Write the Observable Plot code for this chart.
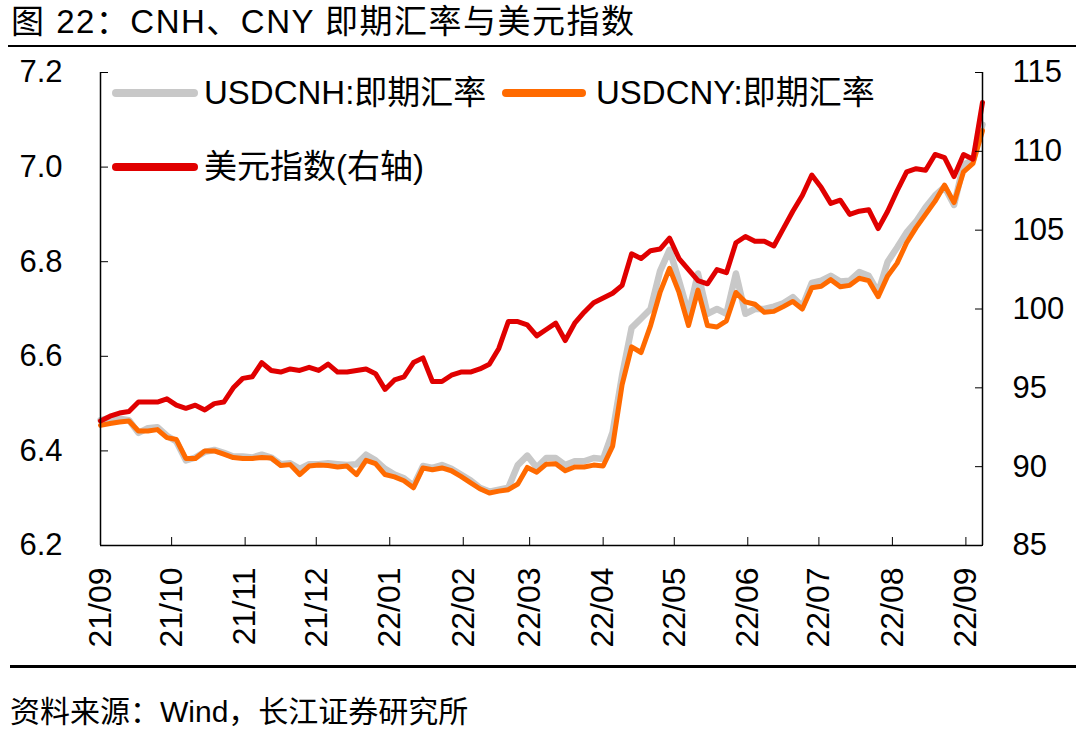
<!DOCTYPE html>
<html>
<head>
<meta charset="utf-8">
<script src="https://cdn.jsdelivr.net/npm/d3@7"></script>
<script src="https://cdn.jsdelivr.net/npm/@observablehq/plot@0.6"></script>
<style>
  html, body { margin: 0; padding: 0; background: #fff; }
  #wrap { position: relative; width: 1080px; height: 733px; overflow: hidden;
          font-family: "Liberation Sans", Arial, "Noto Sans CJK SC", sans-serif; color: #000; }
  #title { position: absolute; left: 11px; top: 2px; font-size: 33px; line-height: 40px; letter-spacing: 1.5px; white-space: nowrap; }
  #rule1 { position: absolute; left: 8px; top: 45px; width: 1068px; height: 2px; background: #000; }
  #chart { position: absolute; left: 0; top: 50px; }
  #rule2 { position: absolute; left: 10px; top: 665px; width: 1066px; height: 3px; background: #000; }
  #caption { position: absolute; left: 10px; top: 694px; font-size: 30px; line-height: 36px; white-space: nowrap; }
  .lg { position: absolute; height: 8px; border-radius: 4px; }
  .lt { position: absolute; font-size: 33px; line-height: 38px; white-space: nowrap; }
</style>
</head>
<body>
<div id="wrap">
  <div id="title">图 22：CNH、CNY 即期汇率与美元指数</div>
  <div id="rule1"></div>
  <div id="chart"></div>
  <div class="lg" style="left:112px;top:89px;width:86px;background:#c8c8c8"></div>
  <div class="lt" style="left:204px;top:74px">USDCNH:即期汇率</div>
  <div class="lg" style="left:502px;top:89px;width:84px;background:#ff6a00"></div>
  <div class="lt" style="left:596px;top:74px">USDCNY:即期汇率</div>
  <div class="lg" style="left:112px;top:163px;width:86px;background:#e00000"></div>
  <div class="lt" style="left:204px;top:148px">美元指数(右轴)</div>
  <div id="rule2"></div>
  <div id="caption">资料来源：Wind，长江证券研究所</div>
</div>
<script>
const dates = [
  "2021-09-13","2021-09-17","2021-09-21","2021-09-25","2021-09-29",
  "2021-10-03","2021-10-07","2021-10-11","2021-10-15","2021-10-19","2021-10-23","2021-10-27","2021-10-31",
  "2021-11-04","2021-11-08","2021-11-12","2021-11-16","2021-11-20","2021-11-24","2021-11-28",
  "2021-12-02","2021-12-06","2021-12-10","2021-12-14","2021-12-18","2021-12-22","2021-12-26","2021-12-30",
  "2022-01-03","2022-01-07","2022-01-11","2022-01-15","2022-01-19","2022-01-23","2022-01-27","2022-01-31",
  "2022-02-04","2022-02-08","2022-02-12","2022-02-16","2022-02-20","2022-02-24","2022-02-28",
  "2022-03-04","2022-03-08","2022-03-12","2022-03-16","2022-03-20","2022-03-24","2022-03-28",
  "2022-04-01","2022-04-05","2022-04-09","2022-04-13","2022-04-17","2022-04-21","2022-04-25","2022-04-29",
  "2022-05-03","2022-05-07","2022-05-11","2022-05-15","2022-05-19","2022-05-23","2022-05-27","2022-05-31",
  "2022-06-04","2022-06-08","2022-06-12","2022-06-16","2022-06-20","2022-06-24","2022-06-28",
  "2022-07-02","2022-07-06","2022-07-10","2022-07-14","2022-07-18","2022-07-22","2022-07-26","2022-07-30",
  "2022-08-03","2022-08-07","2022-08-11","2022-08-15","2022-08-19","2022-08-23","2022-08-27","2022-08-31",
  "2022-09-04","2022-09-08","2022-09-12","2022-09-16","2022-09-20"
];
const cnh = [
  6.465, 6.470, 6.468, 6.465, 6.438, 6.448, 6.450, 6.432, 6.420, 6.380,
  6.386, 6.398, 6.402, 6.396, 6.388, 6.388, 6.386, 6.392, 6.386, 6.372,
  6.374, 6.362, 6.372, 6.372, 6.374, 6.372, 6.370, 6.372, 6.392, 6.380,
  6.362, 6.350, 6.342, 6.326, 6.368, 6.364, 6.370, 6.362, 6.350, 6.338,
  6.322, 6.314, 6.318, 6.322, 6.370, 6.390, 6.365, 6.385, 6.385, 6.370,
  6.378, 6.378, 6.385, 6.383, 6.440, 6.560, 6.660, 6.680, 6.700, 6.780,
  6.825, 6.760, 6.690, 6.775, 6.690, 6.700, 6.690, 6.775, 6.690, 6.700,
  6.700, 6.705, 6.712, 6.725, 6.705, 6.755, 6.760, 6.770, 6.758, 6.760,
  6.778, 6.770, 6.735, 6.800, 6.830, 6.862, 6.885, 6.915, 6.940, 6.958,
  6.920, 7.005, 7.015, 7.090
];
const cny = [
  6.454, 6.458, 6.461, 6.463, 6.442, 6.442, 6.445, 6.428, 6.424, 6.384,
  6.384, 6.400, 6.400, 6.393, 6.386, 6.384, 6.384, 6.386, 6.385, 6.369,
  6.371, 6.350, 6.368, 6.370, 6.369, 6.366, 6.368, 6.350, 6.380, 6.373,
  6.350, 6.345, 6.337, 6.322, 6.364, 6.360, 6.364, 6.358, 6.346, 6.333,
  6.320, 6.311, 6.315, 6.318, 6.330, 6.365, 6.355, 6.372, 6.373, 6.358,
  6.366, 6.366, 6.370, 6.368, 6.410, 6.540, 6.620, 6.608, 6.665, 6.735,
  6.786, 6.735, 6.665, 6.740, 6.665, 6.662, 6.675, 6.735, 6.715, 6.710,
  6.693, 6.695, 6.705, 6.716, 6.700, 6.745, 6.748, 6.762, 6.747, 6.750,
  6.765, 6.760, 6.726, 6.770, 6.797, 6.840, 6.872, 6.900, 6.928, 6.962,
  6.925, 6.990, 7.008, 7.077
];
const dxy = [
  92.9, 93.2, 93.4, 93.5, 94.1, 94.1, 94.1, 94.3, 93.9, 93.7,
  93.9, 93.6, 94.0, 94.1, 95.0, 95.6, 95.7, 96.6, 96.1, 96.0,
  96.2, 96.1, 96.3, 96.1, 96.5, 96.0, 96.0, 96.1, 96.2, 95.9,
  94.9, 95.5, 95.7, 96.6, 96.9, 95.4, 95.4, 95.8, 96.0, 96.0,
  96.2, 96.5, 97.5, 99.2, 99.2, 99.0, 98.3, 98.7, 99.1, 98.0,
  99.1, 99.8, 100.4, 100.7, 101.0, 101.5, 103.5, 103.2, 103.7, 103.8,
  104.5, 103.2, 102.5, 101.8, 101.6, 102.5, 102.3, 104.2, 104.6, 104.3,
  104.3, 104.0, 105.1, 106.2, 107.2, 108.5, 107.7, 106.7, 106.9, 106.0,
  106.2, 106.3, 105.1, 106.2, 107.5, 108.7, 108.9, 108.8, 109.8, 109.6,
  108.4, 109.8, 109.5, 113.1
];
const leftTicks = [6.2, 6.4, 6.6, 6.8, 7.0, 7.2];
const rightTicks = [85, 90, 95, 100, 105, 110, 115];
const xTickDates = ["2021-09-13","2021-10-13","2021-11-13","2021-12-13","2022-01-13","2022-02-13","2022-03-13",
                    "2022-04-13","2022-05-13","2022-06-13","2022-07-13","2022-08-13","2022-09-13"];
const xTickLabels = ["21/09","21/10","21/11","21/12","22/01","22/02","22/03","22/04","22/05","22/06","22/07","22/08","22/09"];

const parse = d3.utcParse("%Y-%m-%d");
const rows = dates.map((d, i) => ({date: parse(d), cnh: cnh[i], cny: cny[i], dxy: dxy[i]}));
const xTicks = xTickDates.map(parse);
const labelOf = new Map(xTicks.map((d, i) => [+d, xTickLabels[i]]));
const L0 = leftTicks[0], L1 = leftTicks[leftTicks.length - 1];
const R0 = rightTicks[0], R1 = rightTicks[rightTicks.length - 1];
const toLeft = v => L0 + (v - R0) * (L1 - L0) / (R1 - R0);
const fromLeft = v => R0 + (v - L0) * (R1 - R0) / (L1 - L0);
const first = rows[0].date, last = rows[rows.length - 1].date;

const chart = Plot.plot({
  width: 1080, height: 610,
  marginTop: 22, marginBottom: 115, marginLeft: 100, marginRight: 98,
  x: {type: "utc", domain: [first, last]},
  y: {domain: [L0, L1]},
  style: {fontFamily: "'Liberation Sans', Arial, sans-serif", fontSize: "31px", color: "#000", background: "transparent", overflow: "visible"},
  marks: [
    Plot.line(rows, {x: "date", y: "cnh", stroke: "#c8c8c8", strokeWidth: 6.5, strokeLinejoin: "round", strokeLinecap: "round"}),
    Plot.line(rows, {x: "date", y: "cny", stroke: "#ff6a00", strokeWidth: 5, strokeLinejoin: "round", strokeLinecap: "round"}),
    Plot.line(rows, {x: "date", y: d => toLeft(d.dxy), stroke: "#e00000", strokeWidth: 5, strokeLinejoin: "round", strokeLinecap: "round"}),
    Plot.ruleY([L0], {stroke: "#000", strokeWidth: 1.5}),
    Plot.ruleX([first], {stroke: "#000", strokeWidth: 1.5}),
    Plot.ruleX([last], {stroke: "#000", strokeWidth: 1.5}),
    Plot.axisY(leftTicks, {anchor: "left", tickSize: 8, dx: 8, tickFormat: () => "", label: null}),
    Plot.axisY(leftTicks, {anchor: "left", tickSize: 0, tickPadding: 38, tickFormat: d3.format(".1f"), label: null, fontSize: 31}),
    Plot.axisY(rightTicks.map(toLeft), {anchor: "right", tickSize: 8, dx: -8, tickFormat: () => "", label: null}),
    Plot.axisY(rightTicks.map(toLeft), {anchor: "right", tickSize: 0, tickPadding: 30, tickFormat: d => String(Math.round(fromLeft(d))), label: null, fontSize: 31}),
    Plot.axisX(xTicks, {anchor: "bottom", tickSize: 8, dy: -8, tickFormat: () => "", label: null}),
    Plot.axisX(xTicks, {anchor: "bottom", tickSize: 0, tickPadding: 22, tickRotate: -90, tickFormat: d => labelOf.get(+d), label: null, fontSize: 32})
  ]
});
document.getElementById("chart").appendChild(chart);
</script>
</body>
</html>
